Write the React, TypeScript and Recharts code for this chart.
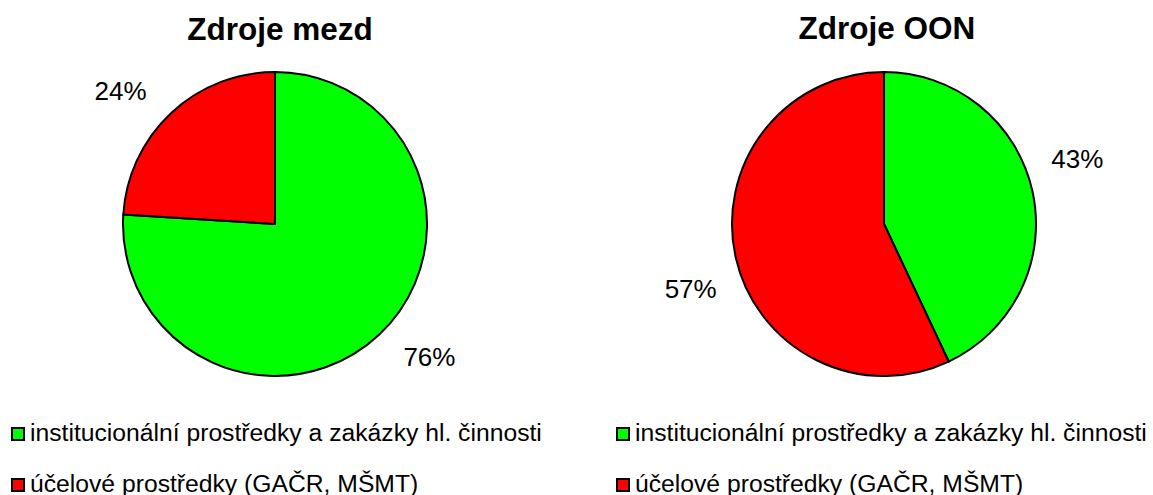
import { Cell, Pie, PieChart } from 'recharts';

const categories = ['institucionální prostředky a zakázky hl. činnosti', 'účelové prostředky (GAČR, MŠMT)'];
const mzdyValues = [76, 24];
const oonValues = [43, 57];
const titles = ['Zdroje mezd', 'Zdroje OON'];

const COLORS = ['#00ff00', '#ff0000'];
const FONT = '"Liberation Sans", Arial, sans-serif';
const RADIAN = Math.PI / 180;

const mzdyData = categories.map((name, i) => ({ name, value: mzdyValues[i] }));
const oonData = categories.map((name, i) => ({ name, value: oonValues[i] }));

function renderLabel(props: any) {
  const { cx, cy, midAngle, outerRadius, percent } = props;
  const r = outerRadius + 52;
  const a = midAngle + 6;
  const x = cx + r * Math.cos(-a * RADIAN);
  const y = cy + r * Math.sin(-a * RADIAN);
  return (
    <text x={x} y={y} textAnchor="middle" dominantBaseline="central" fontSize={26} fontFamily={FONT} fill="#000">
      {Math.round(percent * 100)}%
    </text>
  );
}

function Legend({ x }: { x: number }) {
  return (
    <g>
      {categories.map((name, i) => (
        <g key={name}>
          <rect x={x} y={428 + i * 51} width={12} height={12} fill={COLORS[i]} stroke="#000" strokeWidth={2} />
          <text x={x + 18} y={441 + i * 51} fontSize={24.7} fontFamily={FONT} fill="#000">
            {name}
          </text>
        </g>
      ))}
    </g>
  );
}

export default function App() {
  return (
    <div style={{ position: 'absolute', left: 0, top: 0, width: 1153, height: 495, background: '#fff' }}>
      <PieChart width={1153} height={495} margin={{ top: 0, right: 0, bottom: 0, left: 0 }}>
        <Pie
          data={mzdyData}
          dataKey="value"
          nameKey="name"
          cx={275}
          cy={224}
          outerRadius={152}
          startAngle={90}
          endAngle={-270}
          stroke="#000"
          strokeWidth={2}
          label={renderLabel}
          labelLine={false}
          isAnimationActive={false}
        >
          {mzdyData.map((_, i) => (
            <Cell key={i} fill={COLORS[i]} />
          ))}
        </Pie>
        <Pie
          data={oonData}
          dataKey="value"
          nameKey="name"
          cx={884}
          cy={224}
          outerRadius={152}
          startAngle={90}
          endAngle={-270}
          stroke="#000"
          strokeWidth={2}
          label={renderLabel}
          labelLine={false}
          isAnimationActive={false}
        >
          {oonData.map((_, i) => (
            <Cell key={i} fill={COLORS[i]} />
          ))}
        </Pie>
      </PieChart>
      <svg width={1153} height={495} style={{ position: 'absolute', left: 0, top: 0, pointerEvents: 'none' }}>
        <text x={280} y={40} textAnchor="middle" fontSize={31.5} fontWeight="bold" fontFamily={FONT}>
          {titles[0]}
        </text>
        <text x={887} y={39} textAnchor="middle" fontSize={31.5} fontWeight="bold" fontFamily={FONT}>
          {titles[1]}
        </text>
        <Legend x={12} />
        <Legend x={617} />
      </svg>
    </div>
  );
}
